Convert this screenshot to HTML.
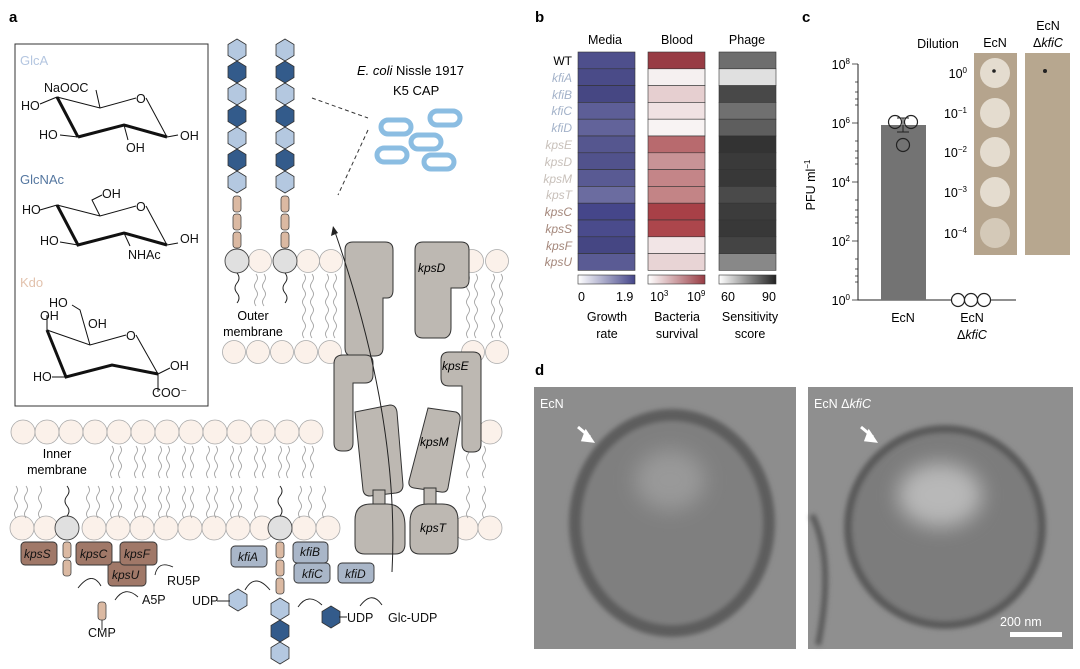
<!DOCTYPE html>
<html><head><meta charset="utf-8"><style>
html,body{margin:0;padding:0;background:#fff}
svg{display:block;font-family:"Liberation Sans",sans-serif}
</style></head><body>
<svg width="1080" height="669" viewBox="0 0 1080 669" xmlns="http://www.w3.org/2000/svg">
<defs>
<polygon id="hx" points="0,-11 9,-5.5 9,5.5 0,11 -9,5.5 -9,-5.5" stroke="#333" stroke-width="0.8"/>
<path id="wig" d="M0,0 q3,4 0,8 q-3,4 0,8 q3,4 0,8 q-3,4 0,8" fill="none" stroke="#999" stroke-width="0.8"/>
<filter id="bl" x="-50%" y="-50%" width="200%" height="200%"><feGaussianBlur stdDeviation="10"/></filter>
<filter id="bl2" x="-20%" y="-20%" width="140%" height="140%"><feGaussianBlur stdDeviation="2.5"/></filter>
<linearGradient id="gb1"><stop offset="0" stop-color="#fff"/><stop offset="1" stop-color="#45468a"/></linearGradient>
<linearGradient id="gb2"><stop offset="0" stop-color="#fff"/><stop offset="1" stop-color="#983c44"/></linearGradient>
<linearGradient id="gb3"><stop offset="0" stop-color="#fff"/><stop offset="1" stop-color="#222"/></linearGradient>
</defs>

<g font-weight="bold" font-size="15"><text x="9" y="22">a</text><text x="535" y="22">b</text><text x="802" y="22">c</text><text x="535" y="375">d</text></g>

<rect x="15" y="44" width="193" height="362" fill="none" stroke="#333" stroke-width="1"/>
<g font-size="13" fill="#111">
<text x="20" y="65" fill="#b4c6e0">GlcA</text>
<text x="20" y="184" fill="#5577a0">GlcNAc</text>
<text x="20" y="287" fill="#e2c2ad">Kdo</text>
</g>
<g stroke="#111" fill="none">
<path d="M57,97 L100,108 L136,98" stroke-width="1"/>
<path d="M57,97 L78,137" stroke-width="3"/>
<path d="M78,137 L124,125 L167,137" stroke-width="3"/>
<path d="M146,98 L167,137" stroke-width="1"/>
</g>
<g stroke="#111" stroke-width="1" fill="none">
<path d="M100,108 L96,90"/><path d="M57,97 L40,104"/><path d="M78,137 L60,135"/><path d="M124,125 L128,140"/><path d="M167,137 L178,135"/>
<path d="M57,205 L100,216 L136,206"/><path d="M146,206 L167,245"/>
<path d="M100,216 L92,200 L102,195"/><path d="M57,205 L40,210"/><path d="M78,245 L60,242"/><path d="M124,233 L130,246"/><path d="M167,245 L178,243"/>
<path d="M47,330 L90,345 L126,335"/><path d="M136,335 L158,374"/>
<path d="M47,330 L47,315"/><path d="M90,345 L80,310 L72,305"/><path d="M158,374 L158,392"/><path d="M158,374 L170,368"/><path d="M66,377 L52,377"/>
</g>
<g stroke="#111" stroke-width="3" fill="none">
<path d="M57,205 L78,245 L124,233 L167,245"/>
<path d="M47,330 L66,377 L112,365 L158,374"/>
</g>
<g font-size="12.5" fill="#111">
<text x="44" y="92">NaOOC</text><text x="21" y="110">HO</text><text x="136" y="103">O</text>
<text x="39" y="139">HO</text><text x="180" y="140">OH</text><text x="126" y="152">OH</text>
<text x="102" y="198">OH</text><text x="22" y="214">HO</text><text x="136" y="211">O</text>
<text x="40" y="245">HO</text><text x="180" y="243">OH</text><text x="128" y="259">NHAc</text>
<text x="49" y="307">HO</text><text x="40" y="320">OH</text><text x="88" y="328">OH</text><text x="126" y="340">O</text>
<text x="33" y="381">HO</text><text x="170" y="370">OH</text><text x="152" y="397">COO⁻</text>
</g>

<g>
<use href="#hx" x="237" y="50" fill="#b4c8e0"/><use href="#hx" x="237" y="72" fill="#335b8b"/><use href="#hx" x="237" y="94" fill="#b4c8e0"/><use href="#hx" x="237" y="116" fill="#335b8b"/><use href="#hx" x="237" y="138" fill="#b4c8e0"/><use href="#hx" x="237" y="160" fill="#335b8b"/><use href="#hx" x="237" y="182" fill="#b4c8e0"/>
<use href="#hx" x="285" y="50" fill="#b4c8e0"/><use href="#hx" x="285" y="72" fill="#335b8b"/><use href="#hx" x="285" y="94" fill="#b4c8e0"/><use href="#hx" x="285" y="116" fill="#335b8b"/><use href="#hx" x="285" y="138" fill="#b4c8e0"/><use href="#hx" x="285" y="160" fill="#335b8b"/><use href="#hx" x="285" y="182" fill="#b4c8e0"/>
</g>
<g fill="#dbb9a2" stroke="#444" stroke-width="0.8">
<rect x="233" y="196" width="8" height="16" rx="3"/><rect x="233" y="214" width="8" height="16" rx="3"/><rect x="233" y="232" width="8" height="16" rx="3"/>
<rect x="281" y="196" width="8" height="16" rx="3"/><rect x="281" y="214" width="8" height="16" rx="3"/><rect x="281" y="232" width="8" height="16" rx="3"/>
</g>
<text x="357" y="75" font-size="13"><tspan font-style="italic">E. coli</tspan> Nissle 1917</text>
<text x="393" y="95" font-size="13">K5 CAP</text>
<g fill="none" stroke="#8bbde2" stroke-width="5">
<rect x="381" y="120" width="30" height="14" rx="7"/><rect x="430" y="111" width="30" height="14" rx="7"/><rect x="411" y="135" width="30" height="14" rx="7"/><rect x="377" y="148" width="30" height="14" rx="7"/><rect x="424" y="155" width="30" height="14" rx="7"/>
</g>
<path d="M312,98 L368,118 M368,130 L338,195" stroke="#333" stroke-dasharray="4,3" fill="none"/>

<g fill="#fbf1ea" stroke="#aaa" stroke-width="0.8">
<circle cx="260" cy="261" r="11.5"/><circle cx="308" cy="261" r="11.5"/><circle cx="331" cy="261" r="11.5"/><circle cx="472" cy="261" r="11.5"/><circle cx="497" cy="261" r="11.5"/>
<circle cx="234" cy="352" r="11.5"/><circle cx="258" cy="352" r="11.5"/><circle cx="282" cy="352" r="11.5"/><circle cx="306" cy="352" r="11.5"/><circle cx="330" cy="352" r="11.5"/><circle cx="473" cy="352" r="11.5"/><circle cx="497" cy="352" r="11.5"/>
</g>
<g>
<use href="#wig" x="256" y="274"/><use href="#wig" x="264" y="274"/><use href="#wig" x="304" y="274"/><use href="#wig" x="312" y="274"/><use href="#wig" x="327" y="274"/><use href="#wig" x="335" y="274"/><use href="#wig" x="468" y="274"/><use href="#wig" x="476" y="274"/><use href="#wig" x="493" y="274"/><use href="#wig" x="501" y="274"/>
<use href="#wig" x="304" y="306"/><use href="#wig" x="312" y="306"/><use href="#wig" x="327" y="306"/><use href="#wig" x="335" y="306"/><use href="#wig" x="468" y="306"/><use href="#wig" x="476" y="306"/><use href="#wig" x="493" y="306"/><use href="#wig" x="501" y="306"/>
</g>
<g fill="#e0e0e0" stroke="#444" stroke-width="0.9"><circle cx="237" cy="261" r="12"/><circle cx="285" cy="261" r="12"/></g>
<path d="M237,273 q4,5 0,10 q-4,5 0,10 q4,5 0,10 M285,273 q4,5 0,10 q-4,5 0,10 q4,5 0,10" fill="none" stroke="#222"/>
<text x="253" y="320" font-size="12.5" text-anchor="middle">Outer</text>
<text x="253" y="336" font-size="12.5" text-anchor="middle">membrane</text>

<g fill="#fbf1ea" stroke="#aaa" stroke-width="0.8">
<circle cx="23" cy="432" r="12"/><circle cx="47" cy="432" r="12"/><circle cx="71" cy="432" r="12"/><circle cx="95" cy="432" r="12"/><circle cx="119" cy="432" r="12"/><circle cx="143" cy="432" r="12"/><circle cx="167" cy="432" r="12"/><circle cx="191" cy="432" r="12"/><circle cx="215" cy="432" r="12"/><circle cx="239" cy="432" r="12"/><circle cx="263" cy="432" r="12"/><circle cx="287" cy="432" r="12"/><circle cx="311" cy="432" r="12"/><circle cx="490" cy="432" r="12"/>
<circle cx="22" cy="528" r="12"/><circle cx="46" cy="528" r="12"/><circle cx="94" cy="528" r="12"/><circle cx="118" cy="528" r="12"/><circle cx="142" cy="528" r="12"/><circle cx="166" cy="528" r="12"/><circle cx="190" cy="528" r="12"/><circle cx="214" cy="528" r="12"/><circle cx="238" cy="528" r="12"/><circle cx="262" cy="528" r="12"/><circle cx="304" cy="528" r="12"/><circle cx="328" cy="528" r="12"/><circle cx="466" cy="528" r="12"/><circle cx="490" cy="528" r="12"/>
</g>
<g>
<use href="#wig" x="112" y="446"/><use href="#wig" x="120" y="446"/><use href="#wig" x="136" y="446"/><use href="#wig" x="144" y="446"/><use href="#wig" x="160" y="446"/><use href="#wig" x="168" y="446"/><use href="#wig" x="184" y="446"/><use href="#wig" x="192" y="446"/><use href="#wig" x="208" y="446"/><use href="#wig" x="216" y="446"/><use href="#wig" x="232" y="446"/><use href="#wig" x="240" y="446"/><use href="#wig" x="256" y="446"/><use href="#wig" x="264" y="446"/><use href="#wig" x="280" y="446"/><use href="#wig" x="288" y="446"/><use href="#wig" x="304" y="446"/><use href="#wig" x="312" y="446"/><use href="#wig" x="468" y="446"/><use href="#wig" x="484" y="446"/>
<use href="#wig" x="16" y="486"/><use href="#wig" x="26" y="486"/><use href="#wig" x="40" y="486"/><use href="#wig" x="88" y="486"/><use href="#wig" x="98" y="486"/><use href="#wig" x="112" y="486"/><use href="#wig" x="120" y="486"/><use href="#wig" x="136" y="486"/><use href="#wig" x="144" y="486"/><use href="#wig" x="160" y="486"/><use href="#wig" x="168" y="486"/><use href="#wig" x="184" y="486"/><use href="#wig" x="192" y="486"/><use href="#wig" x="208" y="486"/><use href="#wig" x="216" y="486"/><use href="#wig" x="232" y="486"/><use href="#wig" x="240" y="486"/><use href="#wig" x="256" y="486"/><use href="#wig" x="300" y="486"/><use href="#wig" x="310" y="486"/><use href="#wig" x="324" y="486"/><use href="#wig" x="468" y="486"/><use href="#wig" x="484" y="486"/>
</g>
<text x="57" y="458" font-size="12.5" text-anchor="middle">Inner</text>
<text x="57" y="474" font-size="12.5" text-anchor="middle">membrane</text>
<g fill="#e0e0e0" stroke="#444" stroke-width="0.9"><circle cx="67" cy="528" r="12"/><circle cx="280" cy="528" r="12"/></g>
<path d="M67,516 q4,-5 0,-10 q-4,-5 0,-10 q4,-5 0,-10 M280,516 q4,-5 0,-10 q-4,-5 0,-10 q4,-5 0,-10" fill="none" stroke="#222"/>
<g fill="#dbb9a2" stroke="#444" stroke-width="0.8">
<rect x="63" y="542" width="8" height="16" rx="3"/><rect x="63" y="560" width="8" height="16" rx="3"/>
<rect x="276" y="542" width="8" height="16" rx="3"/><rect x="276" y="560" width="8" height="16" rx="3"/><rect x="276" y="578" width="8" height="16" rx="3"/>
<rect x="98" y="602" width="8" height="18" rx="3"/>
</g>
<use href="#hx" x="280" y="609" fill="#b4c8e0"/><use href="#hx" x="280" y="631" fill="#335b8b"/><use href="#hx" x="280" y="653" fill="#b4c8e0"/>
<use href="#hx" x="238" y="600" fill="#b4c8e0"/><use href="#hx" x="331" y="617" fill="#335b8b"/>

<g fill="#bdb8b2" stroke="#333" stroke-width="1">
<path d="M345,250 q0,-8 8,-8 h32 q8,0 8,8 v40 q0,8 -6,8 h-4 v50 q0,8 -8,8 h-22 q-8,0 -8,-8 z"/>
<path d="M415,250 q0,-8 8,-8 h38 q8,0 8,8 v30 q0,8 -8,8 h-10 v40 q0,8 -6,10 h-22 q-8,0 -8,-8 z"/>
<path d="M334,364 q0,-9 9,-9 h22 q8,0 8,8 v12 q0,8 -8,8 h-12 v60 q0,8 -8,8 h-3 q-8,0 -8,-8 z"/>
<path d="M441,360 q0,-8 8,-8 h24 q8,0 8,8 v84 q0,8 -8,8 h-3 q-8,0 -8,-8 v-58 h-13 q-8,0 -8,-8 z"/>
<path d="M355,412 L390,405 Q396,405 397,412 L403,485 Q403,492 396,493 L370,496 Q364,496 363,490 Z"/>
<path d="M428,408 L456,412 Q461,414 460,420 L448,488 Q447,493 441,492 L414,488 Q408,487 409,481 Z"/>
<rect x="373" y="490" width="12" height="18"/><rect x="424" y="488" width="12" height="18"/>
<path d="M355,520 q0,-16 16,-16 h16 q18,0 18,22 v18 q0,10 -10,10 h-30 q-10,0 -10,-10 z"/>
<path d="M410,522 q0,-18 18,-18 h14 q16,0 16,16 v24 q0,10 -10,10 h-28 q-10,0 -10,-10 z"/>
</g>
<path d="M392,572 Q400,420 335,232" fill="none" stroke="#222" stroke-width="1"/>
<path d="M333,226 L331,236 L338,233 Z" fill="#222"/>
<g font-size="12" font-style="italic"><text x="418" y="272">kpsD</text><text x="442" y="370">kpsE</text><text x="420" y="446">kpsM</text><text x="420" y="532">kpsT</text></g>

<g stroke="#333" stroke-width="0.9">
<g fill="#a07868"><rect x="21" y="542" width="36" height="23" rx="4"/><rect x="108" y="562" width="38" height="24" rx="4"/><rect x="76" y="542" width="36" height="23" rx="4"/><rect x="120" y="542" width="37" height="23" rx="4"/></g>
<g fill="#a9b6c8"><rect x="231" y="546" width="36" height="21" rx="4"/><rect x="293" y="542" width="35" height="21" rx="4"/><rect x="294" y="563" width="36" height="20" rx="4"/><rect x="338" y="563" width="36" height="20" rx="4"/></g>
</g>
<g font-size="12" font-style="italic" fill="#111">
<text x="24" y="558">kpsS</text><text x="80" y="558">kpsC</text><text x="124" y="558">kpsF</text><text x="112" y="579">kpsU</text>
<text x="238" y="561">kfiA</text><text x="300" y="556">kfiB</text><text x="302" y="578">kfiC</text><text x="345" y="578">kfiD</text>
</g>
<g font-size="12.5" fill="#111">
<text x="167" y="585">RU5P</text><text x="142" y="604">A5P</text><text x="88" y="637">CMP</text>
<text x="192" y="605">UDP</text><text x="347" y="622">UDP</text><text x="388" y="622">Glc-UDP</text>
</g>
<g fill="none" stroke="#222" stroke-width="0.9">
<path d="M101,586 Q92,570 78,588"/><path d="M138,597 Q125,585 115,600"/><path d="M173,567 Q158,560 155,575"/><path d="M245,590 Q255,572 270,590"/><path d="M322,605 Q308,592 298,607"/><path d="M382,605 Q372,590 360,606"/>
<path d="M102,620 v10 M217,601 h13 M339,617 h8"/>
</g>

<g font-size="12.5" text-anchor="middle"><text x="605" y="44">Media</text><text x="677" y="44">Blood</text><text x="747" y="44">Phage</text></g>
<g stroke="#333" stroke-width="0.6">
<rect x="578" y="52" width="57" height="16.8" fill="#4e4f8c"/><rect x="578" y="68.8" width="57" height="16.8" fill="#4a4b88"/><rect x="578" y="85.6" width="57" height="16.8" fill="#464783"/><rect x="578" y="102.4" width="57" height="16.8" fill="#5d5e97"/><rect x="578" y="119.2" width="57" height="16.8" fill="#62639a"/><rect x="578" y="136" width="57" height="16.8" fill="#55568f"/><rect x="578" y="152.8" width="57" height="16.8" fill="#51528c"/><rect x="578" y="169.6" width="57" height="16.8" fill="#595a93"/><rect x="578" y="186.4" width="57" height="16.8" fill="#6b6ca0"/><rect x="578" y="203.2" width="57" height="16.8" fill="#45468a"/><rect x="578" y="220" width="57" height="16.8" fill="#4a4b8c"/><rect x="578" y="236.8" width="57" height="16.8" fill="#454683"/><rect x="578" y="253.6" width="57" height="16.8" fill="#5a5b94"/>
<rect x="648" y="52" width="57" height="16.8" fill="#983c44"/><rect x="648" y="68.8" width="57" height="16.8" fill="#f5f0f0"/><rect x="648" y="85.6" width="57" height="16.8" fill="#e6cfd0"/><rect x="648" y="102.4" width="57" height="16.8" fill="#f0e2e3"/><rect x="648" y="119.2" width="57" height="16.8" fill="#f8f3f3"/><rect x="648" y="136" width="57" height="16.8" fill="#b86a6e"/><rect x="648" y="152.8" width="57" height="16.8" fill="#c89396"/><rect x="648" y="169.6" width="57" height="16.8" fill="#c48588"/><rect x="648" y="186.4" width="57" height="16.8" fill="#c38486"/><rect x="648" y="203.2" width="57" height="16.8" fill="#a84047"/><rect x="648" y="220" width="57" height="16.8" fill="#ac464c"/><rect x="648" y="236.8" width="57" height="16.8" fill="#f2e5e6"/><rect x="648" y="253.6" width="57" height="16.8" fill="#e8d4d5"/>
<rect x="719" y="52" width="57" height="16.8" fill="#6e6e6e"/><rect x="719" y="68.8" width="57" height="16.8" fill="#e0e0e0"/><rect x="719" y="85.6" width="57" height="16.8" fill="#484848"/><rect x="719" y="102.4" width="57" height="16.8" fill="#707070"/><rect x="719" y="119.2" width="57" height="16.8" fill="#5e5e5e"/><rect x="719" y="136" width="57" height="16.8" fill="#333"/><rect x="719" y="152.8" width="57" height="16.8" fill="#3a3a3a"/><rect x="719" y="169.6" width="57" height="16.8" fill="#383838"/><rect x="719" y="186.4" width="57" height="16.8" fill="#4a4a4a"/><rect x="719" y="203.2" width="57" height="16.8" fill="#3c3c3c"/><rect x="719" y="220" width="57" height="16.8" fill="#383838"/><rect x="719" y="236.8" width="57" height="16.8" fill="#444"/><rect x="719" y="253.6" width="57" height="16.8" fill="#888"/>
<rect x="578" y="275" width="57" height="9" fill="url(#gb1)"/><rect x="648" y="275" width="57" height="9" fill="url(#gb2)"/><rect x="719" y="275" width="57" height="9" fill="url(#gb3)"/>
</g>
<g font-size="12" text-anchor="end">
<text x="572" y="65">WT</text>
<g font-style="italic" fill="#a3b2c9"><text x="572" y="82">kfiA</text><text x="572" y="99">kfiB</text><text x="572" y="115">kfiC</text><text x="572" y="132">kfiD</text></g>
<g font-style="italic" fill="#c8c0ba"><text x="572" y="149">kpsE</text><text x="572" y="166">kpsD</text><text x="572" y="183">kpsM</text><text x="572" y="199">kpsT</text></g>
<g font-style="italic" fill="#a4877b"><text x="572" y="216">kpsC</text><text x="572" y="233">kpsS</text><text x="572" y="250">kpsF</text><text x="572" y="266">kpsU</text></g>
</g>
<g font-size="12.5">
<text x="578" y="301">0</text><text x="616" y="301">1.9</text>
<text x="650" y="301">10<tspan font-size="8" dy="-5">3</tspan></text><text x="687" y="301">10<tspan font-size="8" dy="-5">9</tspan></text>
<text x="721" y="301">60</text><text x="762" y="301">90</text>
</g>
<g font-size="12.5" text-anchor="middle">
<text x="607" y="321">Growth</text><text x="607" y="338">rate</text>
<text x="677" y="321">Bacteria</text><text x="677" y="338">survival</text>
<text x="750" y="321">Sensitivity</text><text x="750" y="338">score</text>
</g>

<path d="M858,64 V300 H1016" fill="none" stroke="#222" stroke-width="1"/>
<g stroke="#222" stroke-width="0.8">
<path d="M852,64 h6 M852,123 h6 M852,182 h6 M852,241 h6 M852,300 h6"/>
<path d="M855,82 h3 M855,92 h3 M855,99 h3 M855,105 h3 M855,141 h3 M855,151 h3 M855,158 h3 M855,164 h3 M855,200 h3 M855,210 h3 M855,217 h3 M855,223 h3 M855,259 h3 M855,269 h3 M855,276 h3 M855,282 h3"/>
</g>
<g font-size="12.5" text-anchor="end">
<text x="850" y="69">10<tspan font-size="8" dy="-5">8</tspan></text>
<text x="850" y="128">10<tspan font-size="8" dy="-5">6</tspan></text>
<text x="850" y="187">10<tspan font-size="8" dy="-5">4</tspan></text>
<text x="850" y="246">10<tspan font-size="8" dy="-5">2</tspan></text>
<text x="850" y="305">10<tspan font-size="8" dy="-5">0</tspan></text>
</g>
<text transform="translate(815,185) rotate(-90)" font-size="12.5" text-anchor="middle">PFU ml<tspan font-size="8" dy="-5">−1</tspan></text>
<rect x="881" y="125" width="45" height="175" fill="#737373"/>
<path d="M903,118 v14 M897,118 h12 M897,132 h12" stroke="#222"/>
<g fill="none" stroke="#222" stroke-width="1.2"><circle cx="895" cy="122" r="6.5"/><circle cx="911" cy="122" r="6.5"/><circle cx="903" cy="145" r="6.5"/>
<circle cx="958" cy="300" r="6.5" fill="#fff"/><circle cx="971" cy="300" r="6.5" fill="#fff"/><circle cx="984" cy="300" r="6.5" fill="#fff"/></g>
<g font-size="12.5" text-anchor="middle">
<text x="903" y="322">EcN</text><text x="972" y="322">EcN</text><text x="972" y="339">Δ<tspan font-style="italic">kfiC</tspan></text>
<text x="938" y="48">Dilution</text><text x="995" y="47">EcN</text><text x="1048" y="30">EcN</text><text x="1048" y="47">Δ<tspan font-style="italic">kfiC</tspan></text>
</g>
<rect x="974" y="53" width="43" height="202" fill="#b5a48d"/>
<rect x="1025" y="53" width="45" height="202" fill="#b7a78f"/>
<g fill="#e4dccf"><circle cx="995" cy="73" r="15"/><circle cx="995" cy="113" r="15"/><circle cx="995" cy="152" r="15"/><circle cx="995" cy="192" r="15"/><circle cx="995" cy="233" r="15" fill="#d4c9b8"/></g>
<circle cx="994" cy="71" r="1.8" fill="#222"/><circle cx="1045" cy="71" r="2" fill="#222"/>
<g font-size="12.5" text-anchor="end">
<text x="967" y="78">10<tspan font-size="8" dy="-5">0</tspan></text>
<text x="967" y="118">10<tspan font-size="8" dy="-5">−1</tspan></text>
<text x="967" y="157">10<tspan font-size="8" dy="-5">−2</tspan></text>
<text x="967" y="197">10<tspan font-size="8" dy="-5">−3</tspan></text>
<text x="967" y="238">10<tspan font-size="8" dy="-5">−4</tspan></text>
</g>

<!-- panel d -->
<rect x="534" y="387" width="262" height="262" fill="#8d8d8d"/>
<rect x="808" y="387" width="265" height="262" fill="#8f8f8f"/>
<g filter="url(#bl2)">
<ellipse cx="672" cy="523" rx="103" ry="114" fill="#5d5d5d"/>
<ellipse cx="672" cy="523" rx="91" ry="102" fill="#7f7f7f"/>
<ellipse cx="945" cy="527" rx="101" ry="102" fill="#5a5a5a"/>
<ellipse cx="945" cy="527" rx="93" ry="94" fill="#7c7c7c"/>
<path d="M812,515 Q835,560 818,645" stroke="#5a5a5a" stroke-width="6" fill="none"/>
</g>
<ellipse cx="670" cy="480" rx="35" ry="30" fill="#999" filter="url(#bl)"/>
<ellipse cx="940" cy="495" rx="42" ry="32" fill="#b8b8b8" filter="url(#bl)"/>
<g fill="#fff" font-size="12.5"><text x="540" y="408">EcN</text><text x="814" y="408">EcN Δ<tspan font-style="italic">kfiC</tspan></text><text x="1000" y="626">200 nm</text></g>
<rect x="1010" y="632" width="52" height="5" fill="#fff"/>
<path d="M578,427 L590,437 M586,432 L592,441 L583,440 Z" stroke="#fff" stroke-width="3" fill="#fff"/>
<path d="M861,427 L873,437 M869,432 L875,441 L866,440 Z" stroke="#fff" stroke-width="3" fill="#fff"/>
</svg>
</body></html>
